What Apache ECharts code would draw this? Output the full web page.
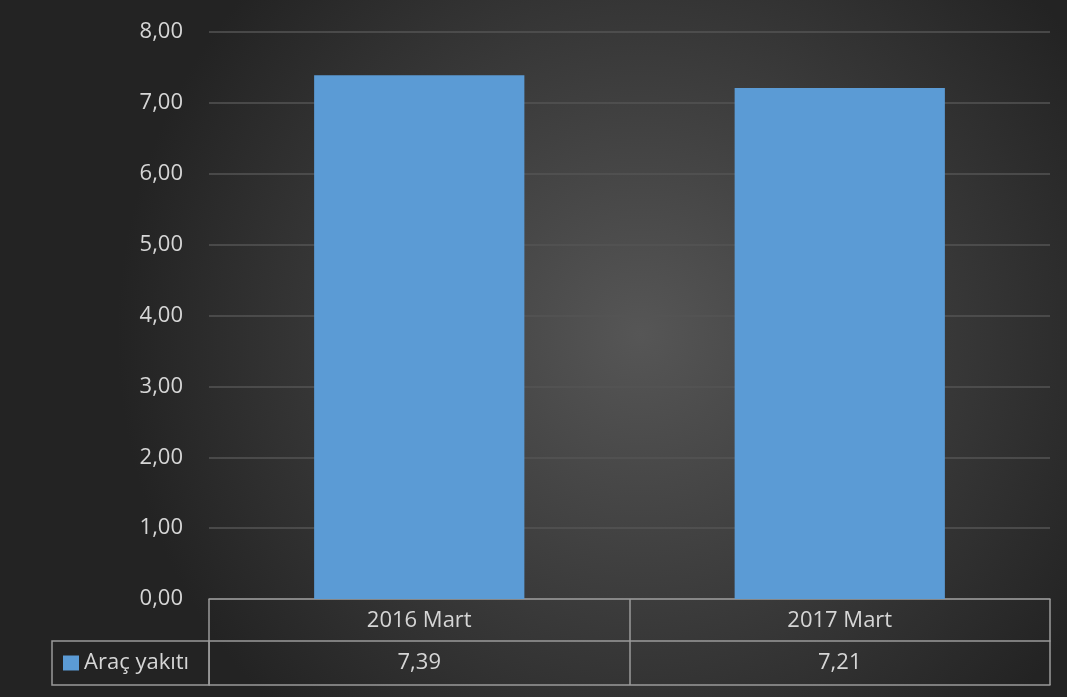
<!DOCTYPE html>
<html>
<head>
<meta charset="utf-8">
<script src="https://cdn.jsdelivr.net/npm/echarts@6/dist/echarts.min.js"></script>
<style>
html,body{margin:0;padding:0;background:#2a2a2a;}
#c{width:1067px;height:697px;}
</style>
</head>
<body>
<div id="c"></div>
<script>
const categories = ['2016 Mart', '2017 Mart'];
const seriesName = 'Araç yakıtı';
const values = [7.39, 7.21];
const yTicks = { min: 0, max: 8, interval: 1 };

const fmt = v => v.toFixed(2).replace('.', ',');
const FONT = '"Open Sans", "Noto Sans", sans-serif';
const TXT = '#d6d6d6';
const LINE = '#9a9a9a';

const chart = echarts.init(document.getElementById('c'), null, {renderer: 'canvas'});
chart.setOption({
  backgroundColor: {
    type: 'radial', x: 0.6, y: 0.48, r: 0.75,
    colorStops: [{offset: 0, color: '#565656'}, {offset: 1, color: '#232323'}]
  },
  animation: false,
  textStyle: {fontFamily: FONT},
  grid: {left: 209, right: 17, top: 32, bottom: 98},
  legend: {
    data: [seriesName],
    left: 52, top: 641,
    orient: 'horizontal',
    icon: 'rect', itemWidth: 16, itemHeight: 15, itemGap: 0,
    padding: [11, 20, 11, 11],
    borderColor: LINE, borderWidth: 1.5, borderRadius: 0,
    textStyle: {color: TXT, fontSize: 22, fontFamily: FONT, lineHeight: 22},
    selectedMode: false
  },
  yAxis: {
    type: 'value', min: yTicks.min, max: yTicks.max, interval: yTicks.interval,
    axisLine: {show: false}, axisTick: {show: false},
    axisLabel: {color: TXT, fontSize: 22, fontFamily: FONT, margin: 26, formatter: fmt},
    splitLine: {lineStyle: {color: '#545454', width: 1.5}}
  },
  xAxis: [
    {
      type: 'category', data: categories, position: 'bottom',
      axisLine: {show: true, lineStyle: {color: LINE, width: 1.5}},
      axisTick: {show: true, alignWithLabel: false, interval: 0, length: 86, lineStyle: {color: LINE, width: 1.5}},
      axisLabel: {color: TXT, fontSize: 22, fontFamily: FONT, margin: 10, lineHeight: 24, interval: 0}
    },
    {
      type: 'category', data: categories.map((c, i) => fmt(values[i])), position: 'bottom', offset: 42,
      axisLine: {show: true, lineStyle: {color: LINE, width: 1.5}},
      axisTick: {show: false},
      axisLabel: {color: TXT, fontSize: 22, fontFamily: FONT, margin: 10, lineHeight: 24, interval: 0}
    },
    {
      type: 'category', data: categories, position: 'bottom', offset: 86,
      axisLine: {show: true, lineStyle: {color: LINE, width: 1.5}},
      axisTick: {show: false},
      axisLabel: {show: false}
    }
  ],
  series: [{
    name: seriesName, type: 'bar', data: values, xAxisIndex: 0,
    barWidth: '50%',
    itemStyle: {color: '#5B9BD5'}
  }]
});
</script>
</body>
</html>
